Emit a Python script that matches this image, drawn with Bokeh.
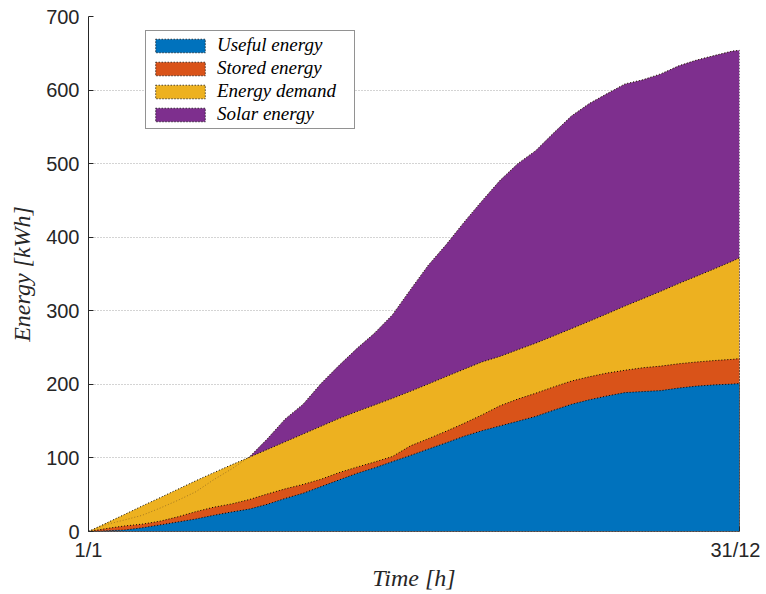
from bokeh.plotting import figure
from bokeh.models import Range1d, FixedTicker, Legend, LegendItem
from bokeh.embed import file_html
from bokeh.resources import INLINE

# Day of year (0 = 1/1, 364 = 31/12)
days = [0, 10, 20, 30, 40, 50, 60, 70, 80, 90, 100, 110, 120, 130, 140, 150, 160, 170, 180,
        190, 200, 210, 220, 230, 240, 250, 260, 270, 280, 290, 300, 310, 320, 330, 340, 350, 360, 364]

# Cumulative energy [kWh]
useful = [0, 1, 2, 5, 9, 13, 17, 22, 26.5, 30.5, 37, 45, 52, 61, 70, 79, 86.5, 95, 103.4,
          112, 120.5, 129.5, 137, 143.5, 149.8, 156.4, 164.8, 172.8, 179, 184.3, 188.8, 190.2, 191.5,
          195, 197.6, 199.3, 200.4, 201]
stored = [0, 4, 7.5, 10, 14, 20, 27, 33, 37.5, 43.5, 51, 58, 64, 71, 80, 87.5, 94.5, 102, 116.4,
          126.2, 136.3, 147, 158.5, 170.8, 180, 187.9, 196.5, 204.5, 210.3, 215.4, 219.2, 222.6, 224.8,
          228, 230.4, 232.4, 234, 235]
demand = [0, 11.5, 23, 34.7, 46, 57.5, 69, 80, 90.7, 101, 111.5, 122, 132.5, 143, 153.5, 163, 172, 181, 190.5,
          200.5, 210.6, 220.6, 230.5, 238, 247, 256, 265.7, 275.7, 285.7, 296, 306.5, 316.5, 326.5,
          337, 347, 357, 367.5, 372]
solar = [0, 9.5, 15.6, 22, 31.8, 42.4, 54, 70.4, 85, 101.4, 126, 153, 173, 201, 225.5, 248.6, 269.7, 294.7, 328.7,
         362, 390, 420.5, 449.3, 477, 500, 517.6, 541.5, 564.7, 581.7, 595.2, 608.4, 614, 622,
         632.9, 640.8, 647, 653, 654]

x_ticks = [0, 364]
x_tick_labels = ["1/1", "31/12"]
y_ticks = [0, 100, 200, 300, 400, 500, 600, 700]

names = ["Useful energy", "Stored energy", "Energy demand", "Solar energy"]
colors = ["#0072BD", "#D95319", "#EDB120", "#7E2F8E"]

TXT = "#262626"

p = figure(width=760, height=594, output_backend="svg", toolbar_location=None,
           x_range=Range1d(0, 364), y_range=Range1d(0, 700),
           min_border_left=88, min_border_right=21, min_border_top=16, min_border_bottom=63)
p.outline_line_color = None
p.background_fill_color = "white"
p.border_fill_color = "white"

# grid
p.xgrid.ticker = FixedTicker(ticks=x_ticks)
p.ygrid.ticker = FixedTicker(ticks=y_ticks)
for g in (p.xgrid, p.ygrid):
    g.grid_line_color = "#a8a8a8"
    g.grid_line_dash = "1 2"
    g.grid_line_width = 1

# axes
p.xaxis.ticker = FixedTicker(ticks=x_ticks)
p.xaxis.major_label_overrides = {x_ticks[i]: x_tick_labels[i] for i in range(len(x_ticks))}
p.yaxis.ticker = FixedTicker(ticks=y_ticks)
for ax in (p.xaxis, p.yaxis):
    ax.major_tick_in = 5
    ax.major_tick_out = 0
    ax.minor_tick_line_color = None
    ax.major_tick_line_color = TXT
    ax.axis_line_color = TXT
    ax.major_label_text_font = "Liberation Sans"
    ax.major_label_text_font_size = "20px"
    ax.major_label_text_color = TXT
    ax.major_label_standoff = 9
    ax.axis_label_text_font = "Liberation Serif"
    ax.axis_label_text_font_style = "italic"
    ax.axis_label_text_font_size = "24px"
    ax.axis_label_text_color = TXT
p.xaxis.axis_line_color = None
p.xaxis.axis_label = "Time [h]"
p.yaxis.axis_label = "Energy [kWh]"
p.xaxis.axis_label_standoff = 1
p.yaxis.axis_label_standoff = 8
p.xaxis.major_label_standoff = 7

series = [useful, stored, demand, solar]
renderers = {}
# draw back to front: solar, demand, stored, useful
for idx in [3, 2, 1, 0]:
    vals = series[idx]
    xs = list(days) + [days[-1], days[0]]
    ys = list(vals) + [0, 0]
    r = p.patch(xs, ys, fill_color=colors[idx], line_color="black",
                line_dash="1 2", line_width=1)
    renderers[idx] = r

# faint solar edge visible through the demand area
p.line(days, solar, line_color="#6b4a20", line_alpha=0.55, line_dash="1 2", line_width=1)

legend = Legend(items=[LegendItem(label=names[i], renderers=[renderers[i]]) for i in range(4)],
                location=(57, 402))
legend.border_line_color = TXT
legend.border_line_width = 1
legend.background_fill_color = "white"
legend.background_fill_alpha = 1
legend.label_text_font = "Liberation Serif"
legend.label_text_font_style = "italic"
legend.label_text_font_size = "19px"
legend.label_text_color = "black"
legend.glyph_width = 62
legend.glyph_height = 17
legend.label_height = 17
legend.label_width = 134
legend.label_standoff = 6
legend.padding = 3
legend.spacing = 1
legend.margin = 0
p.add_layout(legend)

open("out.html", "w").write(file_html(p, INLINE))
